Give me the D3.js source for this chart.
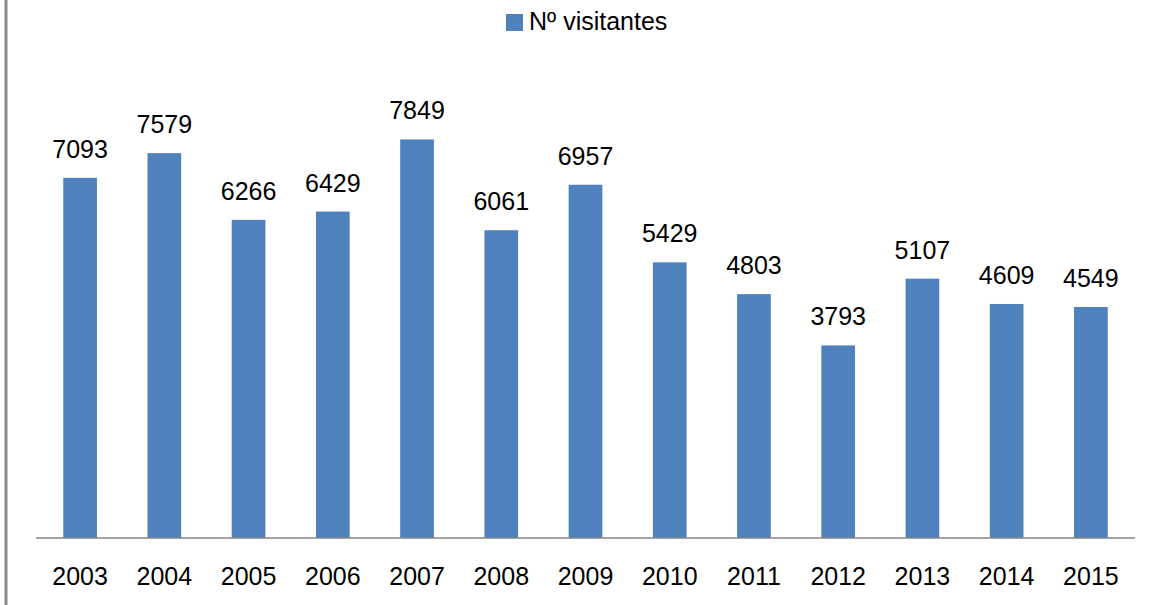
<!DOCTYPE html>
<html><head><meta charset="utf-8">
<script src="https://cdn.jsdelivr.net/npm/d3@7"></script>
<style>body{margin:0;background:#fff}svg{display:block}</style>
</head><body>
<svg id="c" width="1157" height="605"></svg>
<script>
const years = ["2003","2004","2005","2006","2007","2008","2009","2010","2011","2012","2013","2014","2015"];
const visitors = [7093,7579,6266,6429,7849,6061,6957,5429,4803,3793,5107,4609,4549];
const seriesName = "Nº visitantes";

const svg = d3.select("#c");
const W = 1157, H = 605;
const font = "Liberation Sans, Arial, sans-serif";
const fs = 25;
const color = "#4F81BD";

// left border line
svg.append("line").attr("x1",6).attr("x2",6).attr("y1",0).attr("y2",H)
  .attr("stroke","#8a8a8a").attr("stroke-width",3);

const x = d3.scaleBand().domain(years).range([38,1133]).paddingInner(0.6).paddingOuter(0.3);
const y = d3.scaleLinear().domain([0,9000]).range([538,81]);

svg.selectAll("rect.bar").data(years).join("rect").attr("class","bar")
  .attr("x",d=>x(d)).attr("width",x.bandwidth())
  .attr("y",(d,i)=>y(visitors[i])).attr("height",(d,i)=>y(0)-y(visitors[i]))
  .attr("fill",color);

svg.selectAll("text.val").data(years).join("text").attr("class","val")
  .attr("x",d=>x(d)+x.bandwidth()/2).attr("y",(d,i)=>y(visitors[i])-20)
  .attr("text-anchor","middle").attr("font-family",font).attr("font-size",fs)
  .attr("fill","#000").text((d,i)=>visitors[i]);

const xAxis = d3.axisBottom(x).tickSize(0).tickPadding(0);
const gx = svg.append("g").attr("transform","translate(0,538)").call(xAxis);
gx.select(".domain").remove();
gx.append("line").attr("x1",36).attr("x2",1135).attr("y1",0).attr("y2",0)
  .attr("stroke","#868686").attr("stroke-width",1.5);
gx.selectAll("text").attr("font-family",font).attr("font-size",fs).attr("fill","#000")
  .attr("dy",null).attr("y",47);

// legend
const lg = svg.append("g");
lg.append("rect").attr("x",506).attr("y",14).attr("width",17).attr("height",17).attr("fill",color);
lg.append("text").attr("x",529).attr("y",30).attr("font-family",font).attr("font-size",fs)
  .attr("fill","#000").text(seriesName);
</script>
</body></html>
